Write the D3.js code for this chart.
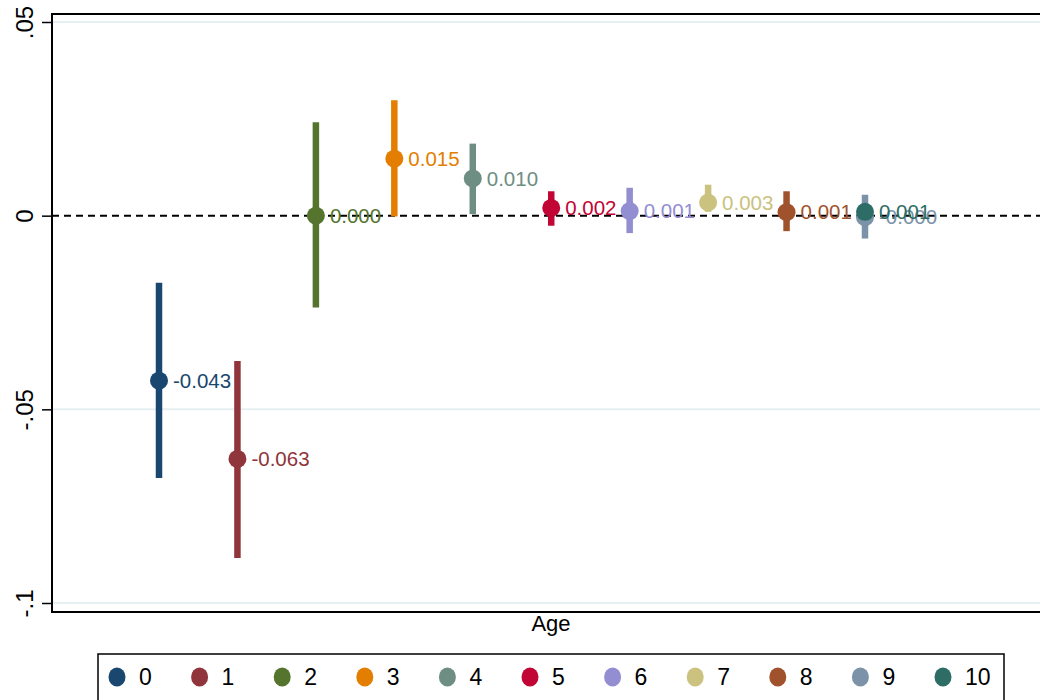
<!DOCTYPE html>
<html>
<head>
<meta charset="utf-8">
<script src="https://cdn.jsdelivr.net/npm/d3@7"></script>
<style>
  html, body { margin: 0; padding: 0; background: #fff; }
  svg { display: block; font-family: Arial, "Liberation Sans", Helvetica, sans-serif; }
</style>
</head>
<body>
<svg id="chart" width="1040" height="700"></svg>
<script>
// Age groups and their estimated coefficients with 95% confidence bounds
const ages = [0, 1, 2, 3, 4, 5, 6, 7, 8, 9, 10];
const estimates = [-0.0426, -0.0628, 0.0000, 0.0147, 0.0096, 0.0020, 0.0012, 0.0034, 0.0009, -0.0004, 0.0010];
const lower = [-0.0677, -0.0884, -0.0237, -0.0002, 0.0004, -0.0026, -0.0045, 0.0010, -0.0040, -0.0059, -0.0010];
const upper = [-0.0173, -0.0375, 0.0241, 0.0298, 0.0186, 0.0063, 0.0072, 0.0080, 0.0063, 0.0054, 0.0030];
const colors = ["#1a476f", "#90353b", "#55752f", "#e37e00", "#6e8e84", "#c10534",
                "#938dd2", "#cac27e", "#a0522d", "#7b92a8", "#2d6d66"];
const yTicks = [0.05, 0, -0.05, -0.1];
const yTickLabels = [".05", "0", "-.05", "-.1"];

const svg = d3.select("#chart");
const plot = { left: 52, right: 1048, top: 14, bottom: 612 };

// Ages are laid out on evenly spaced slots; the oldest group shares the last slot
const x = d3.scaleLinear().domain([0, 9]).range([159, 865]).clamp(true);
const y = d3.scaleLinear().domain([-0.1, 0.05]).range([603, 22]);

// Light horizontal grid lines
svg.append("g")
  .selectAll("line")
  .data(yTicks.filter(t => t !== 0))
  .join("line")
  .attr("x1", plot.left + 1).attr("x2", plot.right)
  .attr("y1", d => y(d)).attr("y2", d => y(d))
  .attr("stroke", "#e6f0f2").attr("stroke-width", 2);

// Dashed reference line at zero
svg.append("line")
  .attr("x1", plot.left).attr("x2", plot.right)
  .attr("y1", y(0)).attr("y2", y(0))
  .attr("stroke", "#000").attr("stroke-width", 2)
  .attr("stroke-dasharray", "7,5");

// Plot frame
svg.append("rect")
  .attr("x", plot.left).attr("y", plot.top)
  .attr("width", plot.right - plot.left).attr("height", plot.bottom - plot.top)
  .attr("fill", "none").attr("stroke", "#000").attr("stroke-width", 2);

// Y axis with rotated tick labels
const yAxis = d3.axisLeft(y)
  .tickValues(yTicks)
  .tickSize(10)
  .tickFormat((d, i) => yTickLabels[i]);
const gy = svg.append("g")
  .attr("transform", `translate(${plot.left},0)`)
  .call(yAxis);
gy.select(".domain").remove();
gy.selectAll(".tick line").attr("stroke", "#000").attr("stroke-width", 1.5);
gy.selectAll(".tick text")
  .attr("x", null).attr("dy", null)
  .attr("transform", "translate(-19,0) rotate(-90)")
  .attr("text-anchor", "middle")
  .attr("fill", "#000")
  .style("font-size", "24px");

// X axis title
svg.append("text")
  .attr("x", 551).attr("y", 631)
  .attr("text-anchor", "middle")
  .style("font-size", "22px")
  .text("Age");

// Confidence intervals, point estimates and value labels
const rows = ages.map((a, i) => ({ age: a, est: estimates[i], lo: lower[i], hi: upper[i], color: colors[i] }));
const groups = svg.append("g")
  .selectAll("g")
  .data(rows)
  .join("g");

groups.append("line")
  .attr("x1", d => x(d.age)).attr("x2", d => x(d.age))
  .attr("y1", d => y(d.lo)).attr("y2", d => y(d.hi))
  .attr("stroke", d => d.color).attr("stroke-width", 6.5);

groups.append("circle")
  .attr("cx", d => x(d.age)).attr("cy", d => y(d.est))
  .attr("r", 9)
  .attr("fill", d => d.color);

groups.append("text")
  .attr("x", d => x(d.age) + 14).attr("y", d => y(d.est))
  .attr("dy", "0.35em")
  .attr("fill", d => d.color)
  .style("font-size", "20.5px")
  .text(d => d.est.toFixed(3));

// Legend
const lx = d3.scaleLinear().domain([0, 10]).range([117, 943]);
svg.append("rect")
  .attr("x", 98).attr("y", 654)
  .attr("width", 906).attr("height", 50)
  .attr("fill", "#fff").attr("stroke", "#000").attr("stroke-width", 1.5);

const items = svg.append("g")
  .selectAll("g")
  .data(rows)
  .join("g")
  .attr("transform", d => `translate(${lx(d.age)},677)`);
items.append("ellipse")
  .attr("rx", 8.5).attr("ry", 9.5)
  .attr("fill", d => d.color);
items.append("text")
  .attr("x", 22).attr("dy", "0.36em")
  .style("font-size", "23px")
  .attr("fill", "#000")
  .text(d => d.age);
</script>
</body>
</html>
